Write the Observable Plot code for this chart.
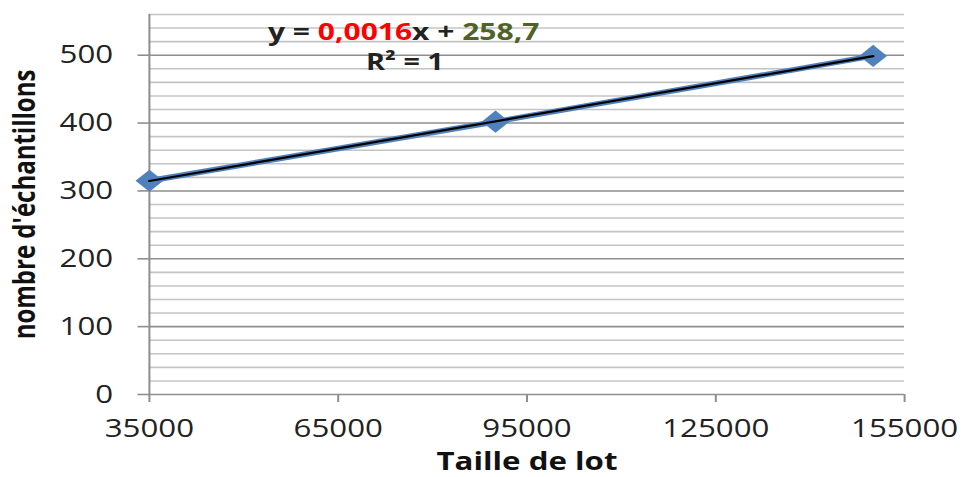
<!DOCTYPE html>
<html><head><meta charset="utf-8">
<script src="https://cdn.jsdelivr.net/npm/d3@7"></script>
<script src="https://cdn.jsdelivr.net/npm/@observablehq/plot@0.6"></script>
<style>
body{margin:0;background:#fff;}
#chart svg{display:block;}
g[aria-label="x-axis tick label"], g[aria-label="y-axis tick label"]{font-size:25px;}
</style></head><body><div id="chart"></div>
<script>
const lotSizes = [35000, 90000, 150000];
const sampleCounts = [315, 402, 499];
const xTicks = [35000, 65000, 95000, 125000, 155000];
const yMajorTicks = [0, 100, 200, 300, 400, 500];
const yMinorTicks = [20, 40, 60, 80, 120, 140, 160, 180, 220, 240, 260, 280, 320, 340, 360, 380, 420, 440, 460, 480, 520, 540, 560];
const eqParts = ["y = ", "0,0016", "x + ", "258,7"];
const equation = eqParts.join("");
const r2Text = "R² = 1";
const xTitle = "Taille de lot";
const yTitle = "nombre d'échantillons";

const data = lotSizes.map((x, i) => ({x, y: sampleCounts[i]}));
const W = 771, H = 477;
const gridMinor = "#c4c4c4", gridMajor = "#8e8e8e", blue = "#4F81BD";

const svg = Plot.plot({
  width: W, height: H,
  marginLeft: 119, marginRight: 48, marginTop: 14, marginBottom: 83,
  style: {fontFamily: "'Open Sans', sans-serif", background: "#fff", color: "#222", overflow: "visible"},
  x: {domain: [35000, 155000]},
  y: {domain: [0, 560]},
  marks: [
    Plot.ruleY(yMinorTicks, {stroke: gridMinor, strokeWidth: 1.6}),
    Plot.ruleY(yMajorTicks, {stroke: gridMajor, strokeWidth: 1.6}),
    Plot.ruleX([35000], {stroke: gridMajor, strokeWidth: 1.6}),
    Plot.axisX({ticks: xTicks, tickFormat: d => String(d), tickSize: 8, tickPadding: 17, stroke: gridMajor, strokeWidth: 1.6, fill: "#222", label: null}),
    Plot.axisY({ticks: yMajorTicks, tickFormat: d => String(d), tickSize: 9, tickPadding: 20, stroke: gridMajor, strokeWidth: 1.6, fill: "#222", label: null}),
    Plot.line(data, {x: "x", y: "y", stroke: blue, strokeWidth: 5.5}),
    Plot.dot(data, {x: "x", y: "y", symbol: "diamond2", r: 10, fill: blue, stroke: "none"}),
    Plot.linearRegressionY(data, {x: "x", y: "y", stroke: "#000", strokeWidth: 2.2, ci: 0}),
    Plot.text([equation], {x: 75400, y: 534, text: d => d, fontSize: 24, fontWeight: "bold", fill: "#222"}),
    Plot.text([r2Text], {x: 75600, y: 489, text: d => d, fontSize: 23, fontWeight: "bold", fill: "#222"}),
    Plot.text([xTitle], {frameAnchor: "bottom", textAnchor: "middle", lineAnchor: "middle", dy: 67, text: d => d, fontSize: 25, fontWeight: "bold", fill: "#111"}),
    Plot.text([yTitle], {frameAnchor: "left", textAnchor: "middle", lineAnchor: "middle", rotate: -90, dx: -99, text: d => d, fontSize: 24, fontWeight: "bold", fill: "#111"})
  ]
});

// colour the parts of the regression equation
const eqColors = ["#222", "#FF0000", "#222", "#4F6228"];
d3.select(svg).selectAll("text").filter(function () { return this.textContent === equation; })
  .each(function () {
    const t = d3.select(this);
    t.text(null);
    eqParts.forEach((p, i) => t.append("tspan").attr("fill", eqColors[i]).text(p));
  });

// the reference picture is stretched horizontally
svg.setAttribute("viewBox", `0 0 ${W} ${H}`);
svg.setAttribute("preserveAspectRatio", "none");
svg.setAttribute("width", 964);
svg.setAttribute("height", 477);
svg.style.width = "964px";
svg.style.height = "477px";
svg.style.maxWidth = "none";
document.getElementById("chart").appendChild(svg);
</script></body></html>
